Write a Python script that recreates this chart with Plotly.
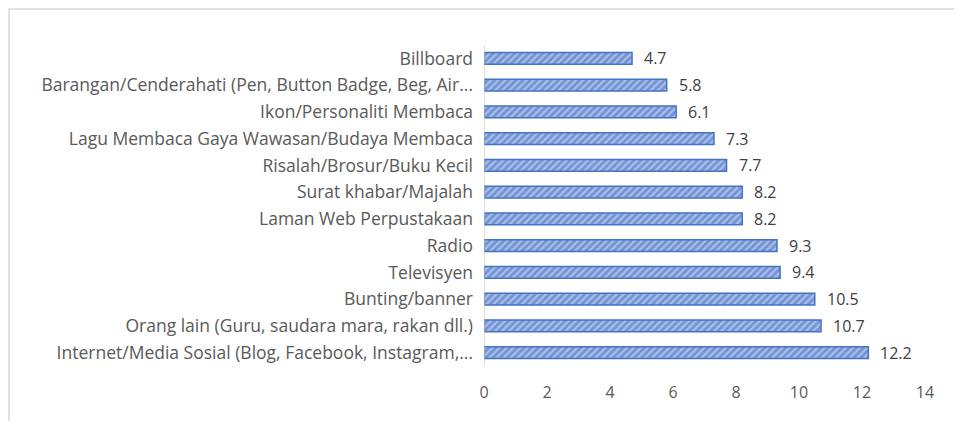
import plotly.graph_objects as go

categories = [
    "Billboard",
    "Barangan/Cenderahati (Pen, Button Badge, Beg, Air...",
    "Ikon/Personaliti Membaca",
    "Lagu Membaca Gaya Wawasan/Budaya Membaca",
    "Risalah/Brosur/Buku Kecil",
    "Surat khabar/Majalah",
    "Laman Web Perpustakaan",
    "Radio",
    "Televisyen",
    "Bunting/banner",
    "Orang lain (Guru, saudara mara, rakan dll.)",
    "Internet/Media Sosial (Blog, Facebook, Instagram,...",
]
values = [4.7, 5.8, 6.1, 7.3, 7.7, 8.2, 8.2, 9.3, 9.4, 10.5, 10.7, 12.2]
x_ticks = [0, 2, 4, 6, 8, 10, 12, 14]

# the page body has an 8px margin, so the figure is drawn 8px in from the window edge
W, H = 954, 413
L, R, T, B = 476, 37, 37, 55
pw = W - L - R
ph = H - T - B

fig = go.Figure()
fig.add_trace(go.Bar(
    x=values, y=categories, orientation="h",
    width=0.43,
    marker=dict(
        color="#4472C4",
        line=dict(color="#4472C4", width=1.5),
        pattern=dict(shape="/", fgcolor="#E4ECFA", bgcolor="#7294D4", size=5, solidity=0.42),
    ),
    hoverinfo="skip",
))

for c, v in zip(categories, values):
    fig.add_annotation(x=v, y=c, xref="x", yref="y", text=f"{v}", showarrow=False,
                       xanchor="left", xshift=10,
                       font=dict(family="Open Sans", size=16, color="#404040"))

# outer chart border (left/top visible, right/bottom beyond the window)
fig.add_shape(type="rect", xref="paper", yref="paper",
              x0=(1 - L) / pw, x1=(W + 20 - L) / pw,
              y0=-(B + 20) / ph, y1=(H - B - 1) / ph,
              line=dict(color="#D9D9D9", width=1.5), fillcolor="rgba(0,0,0,0)", layer="below")

fig.update_layout(
    width=W, height=H,
    margin=dict(l=L, r=R, t=T, b=B),
    paper_bgcolor="white", plot_bgcolor="white",
    showlegend=False,
    font=dict(family="Open Sans", size=17, color="#595959"),
    xaxis=dict(range=[0, 14], tickvals=x_ticks, showgrid=False, zeroline=False,
               showline=False, ticks="", tickfont=dict(size=16, color="#595959"),
               ticklabelstandoff=15, fixedrange=True),
    yaxis=dict(autorange="reversed", showgrid=False, zeroline=False,
               showline=False, ticks="", tickfont=dict(size=17.5, color="#595959"),
               ticklabelstandoff=10, fixedrange=True),
)
fig.add_shape(type="line", xref="x", yref="paper", x0=0, x1=0, y0=0, y1=1,
              line=dict(color="#BFBFBF", width=1))

fig.write_html("out.html")
